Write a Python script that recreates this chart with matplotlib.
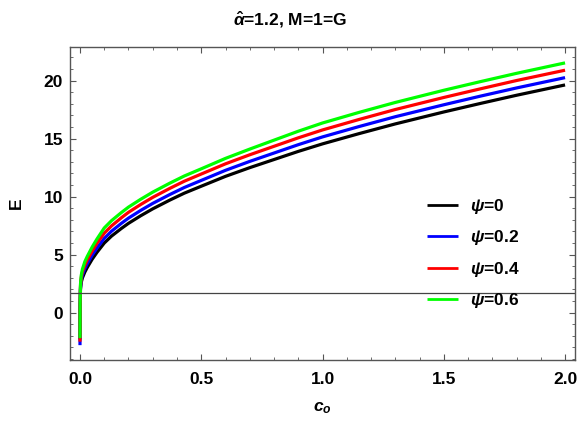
import numpy as np
import matplotlib
matplotlib.use("Agg")
import matplotlib.pyplot as plt
from matplotlib.ticker import MultipleLocator, FormatStrFormatter

plt.rcParams['font.family'] = ['Liberation Sans', 'DejaVu Sans']
plt.rcParams['font.weight'] = 'bold'
plt.rcParams['axes.labelweight'] = 'bold'
plt.rcParams['mathtext.fontset'] = 'custom'
plt.rcParams['mathtext.rm'] = 'Liberation Sans:bold'
plt.rcParams['mathtext.it'] = 'Liberation Sans:italic:bold'
plt.rcParams['mathtext.bf'] = 'Liberation Sans:bold'

# sampled energy curves E(c_o) for each psi
c_o = [0.0, 0.0005, 0.002, 0.005, 0.01, 0.02, 0.03, 0.05, 0.07, 0.1,
       0.13, 0.17, 0.2, 0.25, 0.3, 0.37, 0.43, 0.5, 0.6, 0.7,
       0.8, 0.9, 1.0, 1.15, 1.3, 1.5, 1.65, 1.8, 2.0]
E_psi0 = [-2.3, 0.5, 2.0, 2.6, 3.0, 3.5, 3.9, 4.6, 5.2, 6.0,
          6.6, 7.25, 7.7, 8.35, 8.95, 9.7, 10.3, 10.9, 11.75, 12.5,
          13.2, 13.9, 14.55, 15.43, 16.27, 17.3, 18.03, 18.74, 19.63]
E_psi02 = [-2.8, 0.6, 2.15, 2.8, 3.25, 3.8, 4.22, 4.95, 5.57, 6.4,
           7.02, 7.69, 8.15, 8.81, 9.42, 10.18, 10.79, 11.4, 12.27, 13.04,
           13.76, 14.48, 15.15, 16.04, 16.89, 17.92, 18.66, 19.37, 20.26]
E_psi04 = [-2.5, 0.7, 2.3, 3.0, 3.5, 4.1, 4.55, 5.3, 5.98, 6.85,
           7.48, 8.17, 8.65, 9.32, 9.94, 10.71, 11.33, 11.95, 12.83, 13.61,
           14.34, 15.07, 15.75, 16.65, 17.51, 18.55, 19.29, 20.01, 20.9]
E_psi06 = [-2.2, 0.8, 2.45, 3.2, 3.75, 4.4, 4.85, 5.65, 6.35, 7.3,
           7.93, 8.62, 9.1, 9.77, 10.39, 11.16, 11.78, 12.4, 13.3, 14.1,
           14.87, 15.64, 16.35, 17.26, 18.12, 19.17, 19.91, 20.63, 21.53]

labels = [r"$\psi$=0", r"$\psi$=0.2", r"$\psi$=0.4", r"$\psi$=0.6"]
colors = ["black", "#0000ff", "#ff0000", "#00ff00"]
E_ref = 1.72

fig = plt.figure(figsize=(5.77, 4.28), dpi=100)
ax = fig.add_axes([70/577, 68/428, 505/577, 313/428])

for E, col, lab in zip([E_psi0, E_psi02, E_psi04, E_psi06], colors, labels):
    ax.plot(c_o, E, color=col, lw=2.3, label=lab, solid_capstyle='butt')

ax.axhline(E_ref, color='#444444', lw=0.9)

ax.set_xlim(-0.0412, 2.041)
ax.set_ylim(-4.08, 22.9)
ax.xaxis.set_major_locator(MultipleLocator(0.5))
ax.xaxis.set_minor_locator(MultipleLocator(0.1))
ax.yaxis.set_major_locator(MultipleLocator(5))
ax.yaxis.set_minor_locator(MultipleLocator(1))
ax.xaxis.set_major_formatter(FormatStrFormatter('%.1f'))

ax.tick_params(which='both', direction='in', top=True, right=True,
               color='#555555', labelsize=12.5)
ax.tick_params(which='major', length=4.5, width=0.8)
ax.tick_params(which='minor', length=2.5, width=0.6)
ax.tick_params(axis='x', which='major', pad=9)
ax.tick_params(axis='y', which='major', pad=5)
for sp in ax.spines.values():
    sp.set_color('#555555')
    sp.set_linewidth(1.0)

ax.set_xlabel(r"$c_o$", fontsize=12.5)
ax.set_ylabel("E", fontsize=12.5)
ax.xaxis.set_label_coords(0.5, -0.128)
ax.yaxis.set_label_coords(-0.092, 0.5)
fig.text(290/577, 1 - 20/428, r"$\hat{\alpha}$=1.2, M=1=G", ha='center', va='center',
         fontsize=12.5, fontweight='bold')

leg = ax.legend(loc='upper left', bbox_to_anchor=(350/505, (313 - 143)/313),
                frameon=False, fontsize=12.5, handlelength=1.8,
                handletextpad=0.69, labelspacing=0.72, borderaxespad=0)
for line in leg.get_lines():
    line.set_linewidth(2.0)

fig.savefig("out.png", dpi=100)
